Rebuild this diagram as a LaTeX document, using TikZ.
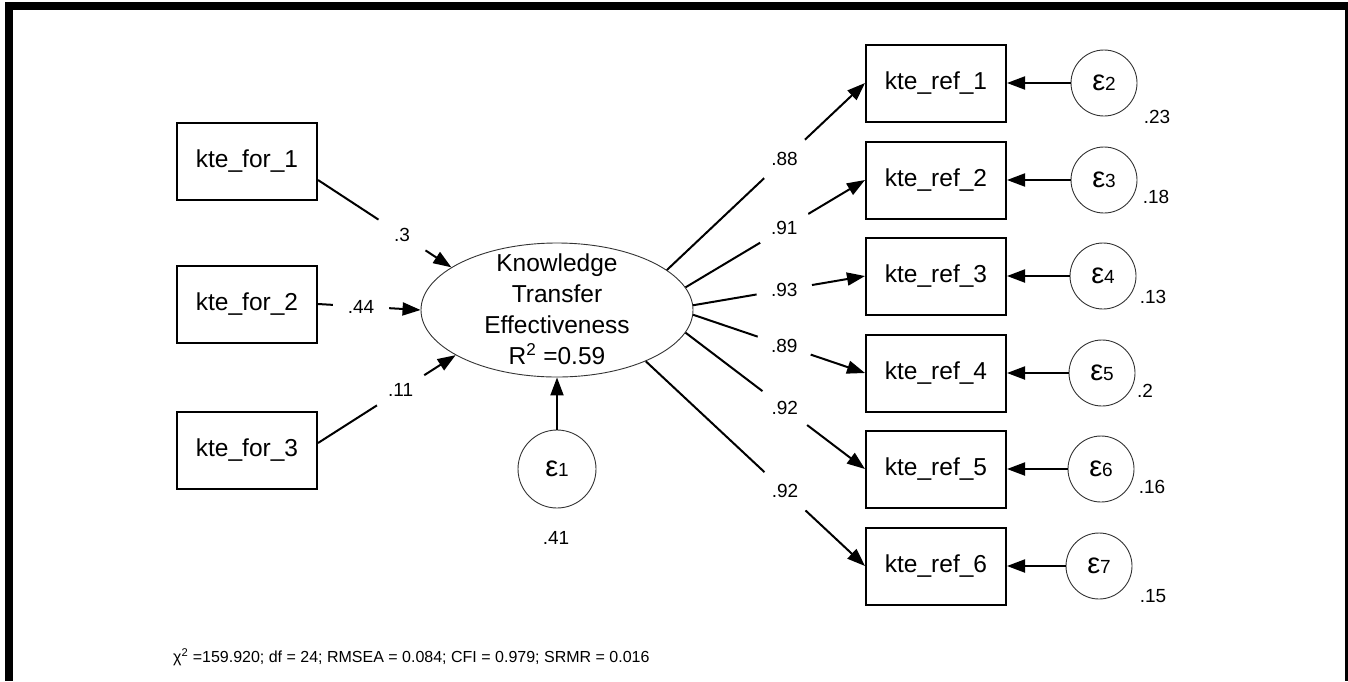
\documentclass[tikz,border=0pt]{standalone}
\usepackage{fontspec}
\setmainfont{Liberation Sans}
\usetikzlibrary{shapes.geometric,arrows.meta}

% error term: large epsilon followed by a smaller index on the baseline
\newcommand\errlab[1]{{\fontsize{29}{30}\selectfont ε}{\fontsize{19}{20}\selectfont #1}}

\begin{document}
\begin{tikzpicture}[x=1pt,y=-1pt,
  obs/.style={draw=black,line width=2pt,minimum width=140pt,minimum height=77pt,
    inner sep=0pt,font=\fontsize{24.5}{28}\selectfont},
  latent/.style={ellipse,draw=black!80,line width=0.9pt,minimum width=272pt,
    minimum height=134pt,inner sep=0pt},
  err/.style={circle,draw=black!80,line width=0.9pt,minimum size=66pt,inner sep=0pt},
  arr/.style={line width=2pt,-{Triangle[length=18pt,width=13pt]}},
  coef/.style={circle,fill=white,minimum size=56pt,inner sep=0pt,
    font=\fontsize{19}{20}\selectfont},
  varlab/.style={inner sep=0pt,font=\fontsize{19}{20}\selectfont},
]
\useasboundingbox (0,0) rectangle (1348,681);

% frame
\fill[black] (5,2) rectangle (1348,10);
\fill[black] (5,2) rectangle (13,681);
\fill[black] (1345,2) rectangle (1348,681);

% formative indicators
\node[obs] (f1) at (247,161) {kte\_for\_1};
\node[obs] (f2) at (247,304) {kte\_for\_2};
\node[obs] (f3) at (247,450) {kte\_for\_3};

% latent construct
\node[latent] (lat) at (557,310) {};
\node[align=center,inner sep=0pt,font=\fontsize{24.5}{31}\selectfont] (latlab) at (557,309)
  {Knowledge\\Transfer\\Effectiveness\\R\textsuperscript{2} =0.59};

% its disturbance
\node[err,minimum size=78pt] (e1) at (557,469) {\errlab{1}};
\node[varlab] (v1) at (556,538) {.41};

% reflective indicators and their errors
\node[obs] (r1) at (936,83)  {kte\_ref\_1};
\node[obs] (r2) at (936,180) {kte\_ref\_2};
\node[obs] (r3) at (936,276) {kte\_ref\_3};
\node[obs] (r4) at (936,373) {kte\_ref\_4};
\node[obs] (r5) at (936,469) {kte\_ref\_5};
\node[obs] (r6) at (936,566) {kte\_ref\_6};

\node[err] (e2) at (1104,83)  {\errlab{2}};
\node[err] (e3) at (1104,180) {\errlab{3}};
\node[err] (e4) at (1103,276) {\errlab{4}};
\node[err] (e5) at (1102,373) {\errlab{5}};
\node[err] (e6) at (1101,469) {\errlab{6}};
\node[err] (e7) at (1099,566) {\errlab{7}};

\node[varlab] (v2) at (1157,117) {.23};
\node[varlab] (v3) at (1156,197) {.18};
\node[varlab] (v4) at (1153,297) {.13};
\node[varlab] (v5) at (1145,391) {.2};
\node[varlab] (v6) at (1152,487) {.16};
\node[varlab] (v7) at (1153,596) {.15};

% paths into the construct
\draw[arr] ([yshift=-19pt]f1.east) -- (lat.158) node[coef,pos=0.63] {.3};
\draw[arr] (f2.east) -- (lat.west) node[coef,pos=0.42] {.44};
\draw[arr] ([yshift=7pt]f3.east) -- (lat.204) node[coef,pos=0.6] {.11};
\draw[arr] (e1) -- (lat);

% loadings
\draw[arr] (lat.20)  -- (r1.west) node[coef,pos=0.594] {.88};
\draw[arr] (lat.10)  -- (r2.west) node[coef,pos=0.55]  {.91};
\draw[arr] (lat.2)   -- (r3.west) node[coef,pos=0.53]  {.93};
\draw[arr] (lat.-2)  -- (r4.west) node[coef,pos=0.53]  {.89};
\draw[arr] (lat.-10) -- (r5.west) node[coef,pos=0.553] {.92};
\draw[arr] (lat.-30.5) -- (r6.west) node[coef,pos=0.635] {.92};

% measurement errors
\draw[arr] (e2) -- (r1);
\draw[arr] (e3) -- (r2);
\draw[arr] (e4) -- (r3);
\draw[arr] (e5) -- (r4);
\draw[arr] (e6) -- (r5);
\draw[arr] (e7) -- (r6);

% fit statistics
\node[anchor=west,inner sep=0pt,font=\fontsize{16}{18}\selectfont] (fit) at (173,657)
  {χ\textsuperscript{2} =159.920; df = 24; RMSEA = 0.084; CFI = 0.979; SRMR = 0.016};
\end{tikzpicture}
\end{document}
